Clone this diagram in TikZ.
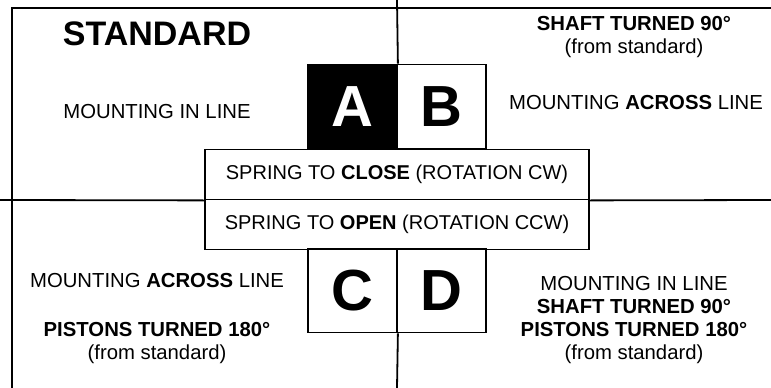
\documentclass[tikz,border=0pt]{standalone}
\usepackage{fontspec}
\setmainfont{Liberation Sans}
\begin{document}
\begin{tikzpicture}[x=1pt, y=-1pt, line width=1.8pt,
    txt/.style={align=center, inner sep=0pt, font=\fontsize{20.3}{23}\selectfont},
    letter/.style={draw, rectangle, minimum width=89pt, minimum height=84pt, inner sep=0pt, font=\fontsize{58}{58}\selectfont\bfseries},
    spring/.style={draw, rectangle, minimum width=384pt, minimum height=50pt, inner sep=0pt, font=\fontsize{20}{23}\selectfont}]
    \useasboundingbox (0,0) rectangle (771,388);

    % Frame and cross
    \draw (12,388) -- (12,8) -- (771,8);

    % Nodes (position letters)
    \node[letter, fill=black, text=white] (A) at (352.5,106.5) {A};
    \node[letter] (B) at (441.5,106.5) {B};
    \node[spring] (close) at (397,174.5) {SPRING TO \textbf{CLOSE} (ROTATION CW)};
    \node[spring] (open) at (397,224.5) {SPRING TO \textbf{OPEN} (ROTATION CCW)};
    \node[letter] (C) at (352.5,290.5) {C};
    \node[letter] (D) at (441.5,290.5) {D};

    % Dividing lines
    \coordinate (topmid) at (397,0);
    \coordinate (botmid) at (397,388);
    \coordinate (leftmid) at (0,200);
    \coordinate (rightmid) at (771,200);
    \draw (topmid) -- (A.north east);
    \draw (C.south east) -- (botmid);
    \draw (leftmid) -- (close.south west);
    \draw (close.south east) -- (rightmid);

    % Labels
    \node[txt, font=\fontsize{34}{38}\selectfont\bfseries] (std) at (157,34) {STANDARD};
    \node[txt] (inlineA) at (157,112) {MOUNTING IN LINE};
    \node[txt] (shaftB) at (634,37) {\textbf{SHAFT TURNED 90°}\\(from standard)};
    \node[txt] (acrossB) at (636,103) {MOUNTING \textbf{ACROSS} LINE};
    \node[txt] (acrossC) at (157,281) {MOUNTING \textbf{ACROSS} LINE};
    \node[txt] (pistonC) at (157,343) {\textbf{PISTONS TURNED 180°}\\(from standard)};
    \node[txt] (inlineD) at (634,320) {MOUNTING IN LINE\\\textbf{SHAFT TURNED 90°}\\\textbf{PISTONS TURNED 180°}\\(from standard)};
\end{tikzpicture}
\end{document}
